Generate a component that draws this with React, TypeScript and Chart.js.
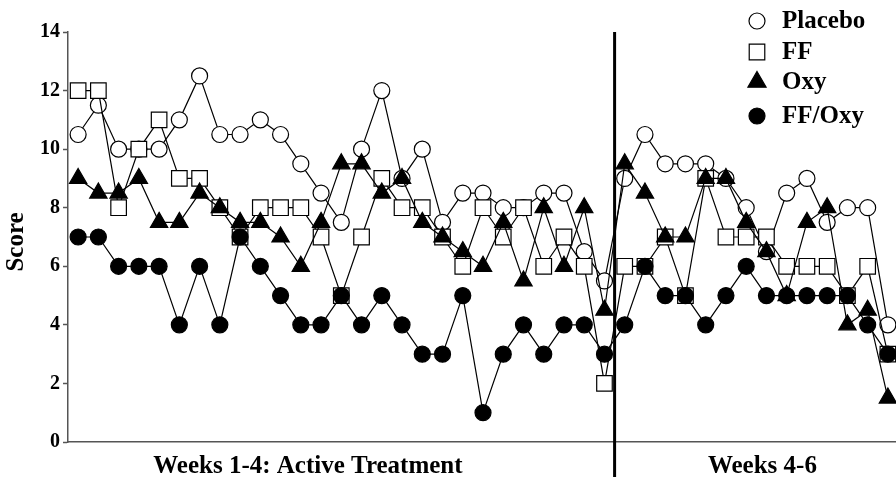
import React, { useEffect, useRef } from 'react';
import { Chart, registerables } from 'chart.js';

Chart.register(...registerables);

const SERIES_LABELS = ['Placebo', 'FF', 'Oxy', 'FF/Oxy'];

const PLACEBO = [10.5, 11.5, 10, 10, 10, 11, 12.5, 10.5, 10.5, 11, 10.5, 9.5, 8.5, 7.5, 10, 12, 9, 10, 7.5, 8.5, 8.5, 8, 8, 8.5, 8.5, 6.5, 5.5,
  9, 10.5, 9.5, 9.5, 9.5, 9, 8, 6.5, 8.5, 9, 7.5, 8, 8, 4];
const FF = [12, 12, 8, 10, 11, 9, 9, 8, 7, 8, 8, 8, 7, 5, 7, 9, 8, 8, 7, 6, 8, 7, 8, 6, 7, 6, 2,
  6, 6, 7, 5, 9, 7, 7, 7, 6, 6, 6, 5, 6, 3];
const OXY = [9, 8.5, 8.5, 9, 7.5, 7.5, 8.5, 8, 7.5, 7.5, 7, 6, 7.5, 9.5, 9.5, 8.5, 9, 7.5, 7, 6.5, 6, 7.5, 5.5, 8, 6, 8, 4.5,
  9.5, 8.5, 7, 7, 9, 9, 7.5, 6.5, 5, 7.5, 8, 4, 4.5, 1.5];
const FF_OXY = [7, 7, 6, 6, 6, 4, 6, 4, 7, 6, 5, 4, 4, 5, 4, 5, 4, 3, 3, 5, 1, 3, 4, 3, 4, 4, 3,
  4, 6, 5, 5, 4, 5, 6, 5, 5, 5, 5, 5, 4, 3];

const Y_TICKS = [0, 2, 4, 6, 8, 10, 12, 14];
const Y_TITLE = 'Score';
const PHASE_LABELS = ['Weeks 1-4: Active Treatment', 'Weeks 4-6'];
const PHASE1_POINTS = 27;

const FONT = '"Liberation Serif", "Times New Roman", serif';

type Marker = { style: string; radius: number; fill: string };
const MARKERS: Marker[] = [
  { style: 'circle', radius: 8, fill: '#ffffff' },
  { style: 'rect', radius: 11, fill: '#ffffff' },
  { style: 'triangle', radius: 10, fill: '#000000' },
  { style: 'circle', radius: 8, fill: '#000000' },
];

function drawMarker(ctx: CanvasRenderingContext2D, m: Marker, x: number, y: number, r: number) {
  ctx.beginPath();
  if (m.style === 'circle') {
    ctx.arc(x, y, r, 0, Math.PI * 2);
  } else if (m.style === 'rect') {
    const s = r * Math.SQRT1_2;
    ctx.rect(x - s, y - s, 2 * s, 2 * s);
  } else {
    for (let k = 0; k < 3; k++) {
      const a = -Math.PI / 2 + (k * 2 * Math.PI) / 3;
      const px = x + Math.cos(a) * r;
      const py = y + Math.sin(a) * r;
      if (k === 0) ctx.moveTo(px, py);
      else ctx.lineTo(px, py);
    }
    ctx.closePath();
  }
  ctx.fillStyle = m.fill;
  ctx.fill();
  ctx.strokeStyle = '#000';
  ctx.lineWidth = 1.2;
  ctx.stroke();
}

export default function App() {
  const ref = useRef<HTMLCanvasElement>(null);

  useEffect(() => {
    if (!ref.current) return;
    const seriesValues = [PLACEBO, FF, OXY, FF_OXY];
    const datasets = seriesValues.map((vals, i) => ({
      label: SERIES_LABELS[i],
      data: vals.map((y, x) => ({ x, y })),
      borderColor: '#000',
      borderWidth: 1.2,
      pointStyle: MARKERS[i].style as any,
      pointRadius: MARKERS[i].radius,
      pointBackgroundColor: MARKERS[i].fill,
      pointBorderColor: '#000',
      pointBorderWidth: 1.2,
      fill: false,
      tension: 0,
      clip: false as any,
      order: 3 - i,
    }));

    const decorPlugin = {
      id: 'decor',
      afterDraw(chart: any) {
        const { ctx, chartArea, scales } = chart;
        ctx.save();
        // phase divider
        const x = scales.x.getPixelForValue(PHASE1_POINTS - 0.5);
        ctx.strokeStyle = '#000';
        ctx.lineWidth = 3;
        ctx.beginPath();
        ctx.moveTo(x, chartArea.top);
        ctx.lineTo(x, chart.height);
        ctx.stroke();

        // y-axis title
        ctx.save();
        ctx.translate(17, 242);
        ctx.rotate(-Math.PI / 2);
        ctx.fillStyle = '#000';
        ctx.font = `bold 25px ${FONT}`;
        ctx.textAlign = 'center';
        ctx.textBaseline = 'middle';
        ctx.fillText(Y_TITLE, 0, 0);
        ctx.restore();

        // legend
        const rowsY = [21, 52, 82, 116];
        const markerX = 757;
        const textX = 782;
        const legendR = [8, 11, 10.5, 8];
        SERIES_LABELS.forEach((label, i) => {
          drawMarker(ctx, MARKERS[i], markerX, rowsY[i], legendR[i]);
          ctx.fillStyle = '#000';
          ctx.font = `bold 25px ${FONT}`;
          ctx.textAlign = 'left';
          ctx.textBaseline = 'middle';
          ctx.fillText(label, textX, rowsY[i] + 1);
        });
        ctx.restore();
      },
    };

    const chart = new Chart(ref.current, {
      type: 'line',
      data: { datasets },
      options: {
        animation: false,
        responsive: false,
        layout: { autoPadding: false, padding: { top: 32, right: 0, left: 0, bottom: 0 } },
        plugins: {
          legend: { display: false },
          tooltip: { enabled: false },
        },
        scales: {
          x: {
            type: 'linear',
            min: -0.5,
            max: 40.4,
            grid: { display: false, drawTicks: false },
            border: { display: true, color: '#555', width: 1.5 },
            afterBuildTicks: (scale: any) => {
              scale.ticks = [{ value: 11.35 }, { value: 33.8 }];
            },
            afterFit: (scale: any) => {
              scale.height = 35;
              scale.paddingLeft = 0;
              scale.paddingRight = 0;
            },
            ticks: {
              autoSkip: false,
              maxRotation: 0,
              padding: 10,
              color: '#000',
              font: { family: FONT, size: 25, weight: 'bold' },
              callback: (_v: any, i: number) => PHASE_LABELS[i],
            },
          },
          y: {
            type: 'linear',
            min: Y_TICKS[0],
            max: Y_TICKS[Y_TICKS.length - 1],
            afterBuildTicks: (scale: any) => {
              scale.ticks = Y_TICKS.map((v) => ({ value: v }));
            },
            afterFit: (scale: any) => {
              scale.width = 68;
            },
            grid: {
              display: true,
              drawOnChartArea: false,
              drawTicks: true,
              tickLength: 5,
              tickColor: '#555',
              tickWidth: 1.5,
            },
            border: { display: true, color: '#555', width: 1.5 },
            ticks: {
              padding: 3,
              color: '#000',
              font: { family: FONT, size: 20, weight: 'bold' },
            },
          },
        },
      },
      plugins: [decorPlugin],
    });

    return () => chart.destroy();
  }, []);

  return (
    <div style={{ position: 'absolute', left: 0, top: 0, width: 896, height: 477, background: '#fff' }}>
      <canvas ref={ref} width={896} height={477} style={{ display: 'block' }} />
    </div>
  );
}
